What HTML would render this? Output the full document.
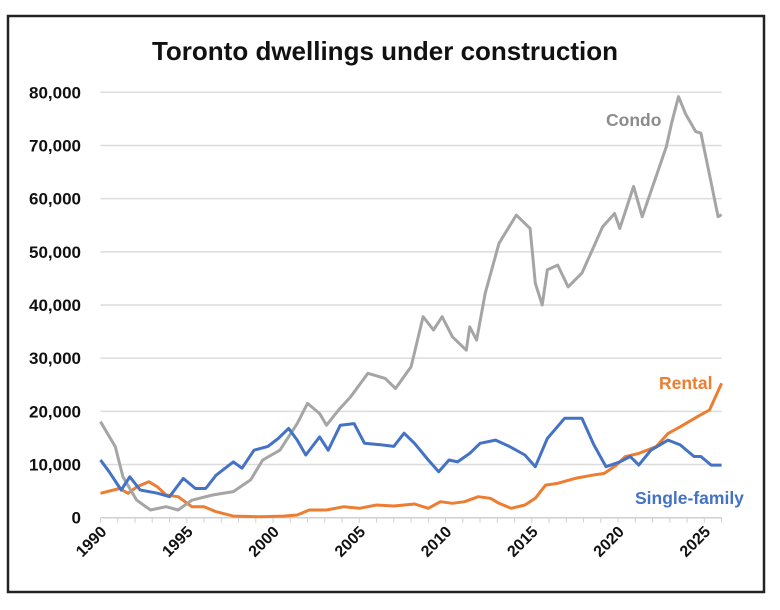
<!DOCTYPE html>
<html><head><meta charset="utf-8"><style>
html,body{margin:0;padding:0;background:#fff;}
svg{display:block;font-family:"Liberation Sans",Arial,sans-serif;}
</style></head><body>
<svg id="chart" width="780" height="610" viewBox="0 0 780 610">
<rect x="8" y="16" width="756" height="576" fill="#fff" stroke="#222" stroke-width="2.5"/>
<text x="385" y="60" text-anchor="middle" font-size="26" font-weight="bold" fill="#111">Toronto dwellings under construction</text>
<g id="grid"></g><g id="axes"></g><g id="series"></g>
<text x="606" y="126" font-size="17.5" font-weight="bold" fill="#8c8c8c">Condo</text>
<text x="659" y="389" font-size="17.5" font-weight="bold" fill="#ED7D31">Rental</text>
<text x="635" y="504" font-size="17.5" font-weight="bold" fill="#4472C4">Single-family</text>
</svg>
<script>
const yTicks=[0,10000,20000,30000,40000,50000,60000,70000,80000];
const xTicks=[1990,1995,2000,2005,2010,2015,2020,2025];
const condoYears=[1990,1990.86,1991.3,1992.1,1992.9,1993.8,1994.5,1995.3,1996.5,1997.7,1998.7,1999.4,2000.4,2001.4,2002,2002.7,2003.1,2003.8,2004.5,2005.5,2006.5,2007.1,2008,2008.7,2009.3,2009.8,2010.4,2011.2,2011.4,2011.8,2012.3,2013.1,2014.1,2014.9,2015.2,2015.6,2015.9,2016.5,2017.1,2017.9,2018.5,2019.1,2019.8,2020.1,2020.9,2021.4,2022.2,2022.8,2023.1,2023.5,2023.9,2024.5,2024.8,2025.3,2025.8,2026];
const condoValues=[18060,13360,7700,3300,1440,2070,1440,3300,4260,4900,7100,10850,12700,17700,21500,19600,17400,20250,22750,27150,26200,24300,28400,37800,35300,37800,34000,31500,35900,33400,42200,51600,56900,54400,44100,40000,46600,47500,43400,46000,50300,54700,57200,54400,62300,56600,64100,69800,74200,79200,76000,72600,72300,64500,56600,57000];
const singleYears=[1990,1990.5,1991.2,1991.7,1992.3,1993.3,1994,1994.8,1995.5,1996.1,1996.7,1997.7,1998.2,1998.9,1999.7,2000.3,2000.9,2001.4,2001.9,2002.7,2003.2,2003.9,2004.7,2005.3,2006.3,2007,2007.6,2008.2,2009,2009.6,2010.2,2010.7,2011.4,2012,2012.9,2013.7,2014.6,2015.2,2015.9,2016.9,2017.9,2018.6,2019.3,2020.1,2020.7,2021.2,2021.9,2022.9,2023.6,2024.4,2024.8,2025.4,2026];
const singleValues=[10850,8650,5200,7700,5200,4600,3950,7400,5500,5500,8000,10500,9300,12700,13400,14900,16800,14600,11800,15200,12700,17400,17700,14000,13700,13400,15900,14000,10850,8650,10850,10500,12100,14000,14600,13400,11800,9600,14900,18700,18700,13700,9600,10500,11500,9900,12700,14600,13700,11500,11500,9900,9900];
const rentalYears=[1990,1991.1,1991.6,1992.1,1992.8,1993.3,1993.8,1994.5,1995.3,1996,1996.7,1997.7,1999.2,2000.6,2001.4,2002.1,2003.1,2004.1,2005,2006,2007,2008.2,2009,2009.7,2010.4,2011.1,2011.9,2012.6,2013.1,2013.8,2014.6,2015.2,2015.8,2016.5,2017.5,2018.5,2019.2,2019.9,2020.4,2021.2,2022.2,2022.9,2023.6,2024.6,2025.3,2026];
const rentalValues=[4580,5500,4580,5800,6770,5800,4260,3950,2070,2070,1130,310,190,310,500,1440,1440,2070,1760,2380,2200,2570,1760,3000,2700,3000,3950,3640,2700,1760,2380,3640,6140,6460,7400,8000,8340,9900,11470,12100,13360,15860,17100,19000,20250,25270];

const NS="http://www.w3.org/2000/svg";
const X0=100.5,X1=721.6,Y0=517.7,Y1=92.3;
const xs=y=>X0+(y-1990)/(2026-1990)*(X1-X0);
const ys=v=>Y0-v/80000*(Y0-Y1);
function mk(tag,attrs,parent){const e=document.createElementNS(NS,tag);for(const k in attrs)e.setAttribute(k,attrs[k]);parent.appendChild(e);return e;}
const grid=document.getElementById('grid'),axes=document.getElementById('axes'),ser=document.getElementById('series');
yTicks.forEach(v=>{
  if(v>0){const l=mk('line',{x1:X0,x2:X1,y1:ys(v),y2:ys(v),stroke:'#dcdcdc','stroke-width':1.5},grid);
  
  }
  const t=mk('text',{x:81,y:ys(v)+6,'text-anchor':'end','font-size':17,'font-weight':'bold',fill:'#111'},axes);
  t.textContent=v.toLocaleString('en-US');
  
  
});
const ax=mk('line',{x1:X0,x2:X1,y1:Y0,y2:Y0,stroke:'#d0d0d0','stroke-width':1.5},axes);


for(let yr=1990;yr<=2026;yr++){
  const tk=mk('line',{x1:xs(yr),x2:xs(yr),y1:Y0,y2:Y0+5,stroke:'#d0d0d0','stroke-width':1},axes);
  
  
}
xTicks.forEach(yr=>{
  const x=xs(yr)+7,y=Y0+15;
  const t=mk('text',{x:x,y:y,'text-anchor':'end','font-size':16,'font-weight':'bold',fill:'#111',transform:`rotate(-45 ${x} ${y})`},axes);
  t.textContent=yr;
  
  
});
function line(years,vals,color,name){
  const d=years.map((y,i)=>(i?'L':'M')+xs(y).toFixed(1)+','+ys(vals[i]).toFixed(1)).join('');
  const p=mk('path',{d:d,fill:'none',stroke:color,'stroke-width':3,'stroke-linejoin':'round'},ser);
  
  
}
line(rentalYears,rentalValues,'#ED7D31','rental-line');
line(condoYears,condoValues,'#A5A5A5','condo-line');
line(singleYears,singleValues,'#4472C4','single-family-line');
</script>
</body></html>
